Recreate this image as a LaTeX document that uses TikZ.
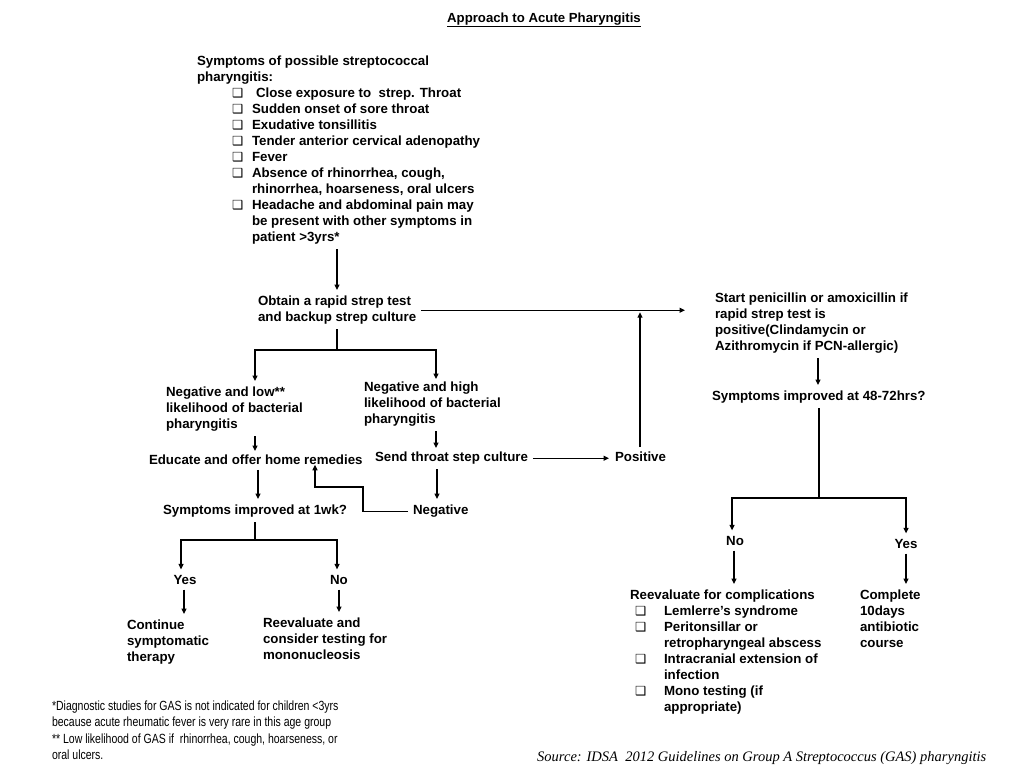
\documentclass[tikz,border=0pt]{standalone}
\usepackage{fontspec}
\setmainfont{Liberation Sans}
\newfontfamily\symfont{DejaVu Sans}
\newfontfamily\narrowfont{Liberation Sans}[FakeStretch=0.79]
\newfontfamily\srcfont{Liberation Serif}
\usetikzlibrary{arrows.meta}
\newcommand{\bx}{{\symfont\fontsize{12.5}{16}\selectfont ❑}}
\newcommand{\li}{\hspace*{35pt}\makebox[20pt][l]{\bx}}
\newcommand{\lc}{\hspace*{55pt}}
\newcommand{\ri}{\hspace*{5pt}\makebox[29pt][l]{\bx}}
\newcommand{\rc}{\hspace*{34pt}}
\tikzset{
  txt/.style={anchor=north west, align=left, inner sep=0pt, outer sep=0pt,
    font=\bfseries\fontsize{13.3}{16}\selectfont},
  lbl/.style={anchor=center, inner sep=0pt, outer sep=0pt,
    font=\bfseries\fontsize{13.3}{16}\selectfont},
  line/.style={line width=1.2pt, black},
  arr/.style={line, -{Triangle[length=5.5pt,width=5pt]}, shorten <=5pt, shorten >=6pt},
}
\begin{document}
\begin{tikzpicture}[x=1pt,y=-1pt]
\useasboundingbox (0,0) rectangle (1024,782);
% title
\node[lbl, font=\bfseries\fontsize{13.2}{15}\selectfont] (title) at (544,20) {\underline{Approach to Acute Pharyngitis}};
% left column
\node[txt] (symp) at (197,56) {Symptoms of possible streptococcal\\
pharyngitis:\\
\li\hspace*{4pt}Close exposure to\ \ strep. Throat\\
\li Sudden onset of sore throat\\
\li Exudative tonsillitis\\
\li Tender anterior cervical adenopathy\\
\li Fever\\
\li Absence of rhinorrhea, cough,\\
\lc rhinorrhea, hoarseness, oral ulcers\\
\li Headache and abdominal pain may\\
\lc be present with other symptoms in\\
\lc patient >3yrs*};
\node[txt] (obtain) at (258,296) {Obtain a rapid strep test\\and backup strep culture};
\node[txt] (start) at (715,293) {Start penicillin or amoxicillin if\\rapid strep test is\\positive(Clindamycin or\\Azithromycin if PCN-allergic)};
\node[txt] (neglow) at (166,387) {Negative and low**\\likelihood of bacterial\\pharyngitis};
\node[txt] (neghigh) at (364,382) {Negative and high\\likelihood of bacterial\\pharyngitis};
\node[txt] (educate) at (149,455) {Educate and offer home remedies};
\node[txt] (send) at (375,452) {Send throat step culture};
\node[txt] (positive) at (615,452) {Positive};
\node[txt] (sym1wk) at (163,505) {Symptoms improved at 1wk?};
\node[txt] (negative) at (413,505) {Negative};
\node[txt] (sym48) at (712,391) {Symptoms improved at 48-72hrs?};
\node[lbl] (yesL) at (185,580) {Yes};
\node[lbl] (noL) at (339,580) {No};
\node[txt] (cont) at (127,620) {Continue\\symptomatic\\therapy};
\node[txt] (reevalL) at (263,618) {Reevaluate and\\consider testing for\\mononucleosis};
\node[lbl] (noR) at (735,541) {No};
\node[lbl] (yesR) at (906,544) {Yes};
\node[txt] (reevalR) at (630,590) {Reevaluate for complications\\
\ri Lemlerre's syndrome\\
\ri Peritonsillar or\\
\rc retropharyngeal abscess\\
\ri Intracranial extension of\\
\rc infection\\
\ri Mono testing (if\\
\rc appropriate)};
\node[txt] (complete) at (860,590) {Complete\\10days\\antibiotic\\course};
\node[txt, font=\narrowfont\fontsize{13.3}{16.3}\selectfont] (foot) at (52,701) {*Diagnostic studies for GAS is not indicated for children <3yrs\\
because acute rheumatic fever is very rare in this age group\\
** Low likelihood of GAS if\ \ rhinorrhea, cough, hoarseness, or\\
oral ulcers.};
\node[anchor=base west, inner sep=0pt, font=\srcfont\itshape\fontsize{14.5}{16}\selectfont] (source) at (537,761) {Source: IDSA\ \ 2012 Guidelines on Group A Streptococcus (GAS) pharyngitis};
% junction coordinates
\coordinate (b1) at (337,350);
\coordinate (b2) at (255,540);
\coordinate (b3) at (819,498);
\coordinate (lp) at (363,487);
% connectors
\draw[arr] (symp.south -| 337,0) -- (obtain.north -| 337,0);
\draw[arr, shorten >=30pt] (obtain.east) -- (start.west |- obtain.east);
\draw[arr, shorten >=2pt] (positive.north -| 640,0) -- (obtain.east -| 640,0);
\draw[line, shorten <=5pt] (obtain.south -| b1) -- (b1);
\draw[arr, shorten <=0pt] (b1) -| (neglow.north -| 255,0);
\draw[arr, shorten <=0pt, shorten >=3pt] (b1) -| (neghigh.north -| 436,0);
\draw[arr, shorten >=4pt] (neglow.south -| 255,0) -- (educate.north -| 255,0);
\draw[arr, shorten >=4pt] (neghigh.south -| 436,0) -- (send.north -| 436,0);
\draw[arr] (educate.south -| 258,0) -- (sym1wk.north -| 258,0);
\draw[arr] (send.east) -- (positive.west |- send.east);
\draw[arr] (send.south -| 437,0) -- (negative.north -| 437,0);
\draw[arr, shorten >=0pt] (negative.west) -| (lp) -| (educate.south -| 315,0);
\draw[line, shorten <=5pt] (sym1wk.south -| b2) -- (b2);
\draw[arr, shorten <=0pt] (b2) -| (yesL.north -| 181,0);
\draw[arr, shorten <=0pt] (b2) -| (noL.north -| 337,0);
\draw[arr] (yesL.south -| 184,0) -- (cont.north -| 184,0);
\draw[arr] (noL.south -| 339,0) -- (reevalL.north -| 339,0);
\draw[arr] (start.south -| 818,0) -- (sym48.north -| 818,0);
\draw[line, shorten <=5pt] (sym48.south -| b3) -- (b3);
\draw[arr, shorten <=0pt] (b3) -| (noR.north -| 732,0);
\draw[arr, shorten <=0pt] (b3) -| (yesR.north -| 906,0);
\draw[arr] (noR.south -| 734,0) -- (reevalR.north -| 734,0);
\draw[arr] (yesR.south -| 906,0) -- (complete.north -| 906,0);
\end{tikzpicture}
\end{document}
